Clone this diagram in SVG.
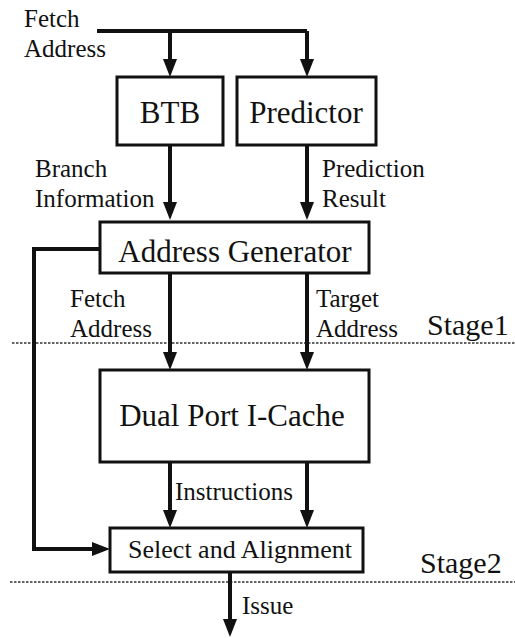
<svg xmlns="http://www.w3.org/2000/svg" width="515" height="638" viewBox="0 0 515 638">
<defs>
<marker id="ah" markerUnits="userSpaceOnUse" markerWidth="20" markerHeight="16" viewBox="0 -8 20 16" refX="4" refY="0" orient="auto">
<path d="M0,-7 L18,0 L0,7 z" fill="#111"/>
</marker>
</defs>
<rect width="515" height="638" fill="#fff"/>
<g id="stage-lines" stroke="#333" stroke-width="1.6" stroke-dasharray="2.5,1.5">
<line x1="12" y1="343" x2="515" y2="343"/>
<line x1="10" y1="582" x2="515" y2="582"/>
</g>
<g id="stage-labels" font-family="Liberation Serif" font-size="30" fill="#111">
<text x="427" y="335">Stage1</text>
<text x="420" y="573">Stage2</text>
</g>
<g id="connectors" fill="none" stroke="#111" stroke-width="4">
<path d="M97,31 H307"/>
<path d="M170,31 V63" marker-end="url(#ah)"/>
<path d="M307,31 V63" marker-end="url(#ah)"/>
<path d="M170,145 V206" marker-end="url(#ah)"/>
<path d="M307,145 V206" marker-end="url(#ah)"/>
<path d="M170,273 V356" marker-end="url(#ah)"/>
<path d="M307,273 V356" marker-end="url(#ah)"/>
<path d="M170,462 V514" marker-end="url(#ah)"/>
<path d="M307,462 V514" marker-end="url(#ah)"/>
<path d="M100,249 H34 V549 H96" marker-end="url(#ah)"/>
<path d="M230,572 V623" marker-end="url(#ah)"/>
</g>
<g id="connector-labels" font-family="Liberation Serif" font-size="25" fill="#111">
<text x="24" y="27">Fetch</text>
<text x="24" y="57">Address</text>
<text x="35" y="177">Branch</text>
<text x="35" y="207">Information</text>
<text x="322" y="177">Prediction</text>
<text x="322" y="207">Result</text>
<text x="70" y="307">Fetch</text>
<text x="70" y="337">Address</text>
<text x="316" y="307">Target</text>
<text x="316" y="337">Address</text>
<text x="175" y="500">Instructions</text>
<text x="242" y="614">Issue</text>
</g>
<g id="btb">
<rect x="117" y="77" width="106" height="68" fill="#fff" stroke="#111" stroke-width="3"/>
<text x="170" y="123" text-anchor="middle" font-family="Liberation Serif" font-size="31" fill="#111">BTB</text>
</g>
<g id="predictor">
<rect x="237" y="77" width="139" height="68" fill="#fff" stroke="#111" stroke-width="3"/>
<text x="306" y="123" text-anchor="middle" font-family="Liberation Serif" font-size="31" fill="#111">Predictor</text>
</g>
<g id="address-generator">
<rect x="100" y="222" width="269" height="51" fill="#fff" stroke="#111" stroke-width="3"/>
<text x="235" y="262" text-anchor="middle" font-family="Liberation Serif" font-size="31" fill="#111">Address Generator</text>
</g>
<g id="icache">
<rect x="100" y="370" width="269" height="92" fill="#fff" stroke="#111" stroke-width="3"/>
<text x="232" y="426" text-anchor="middle" font-family="Liberation Serif" font-size="31" fill="#111">Dual Port I-Cache</text>
</g>
<g id="select-align">
<rect x="110" y="528" width="253" height="44" fill="#fff" stroke="#111" stroke-width="3"/>
<text x="240" y="558" text-anchor="middle" font-family="Liberation Serif" font-size="26" fill="#111">Select and Alignment</text>
</g>
</svg>
